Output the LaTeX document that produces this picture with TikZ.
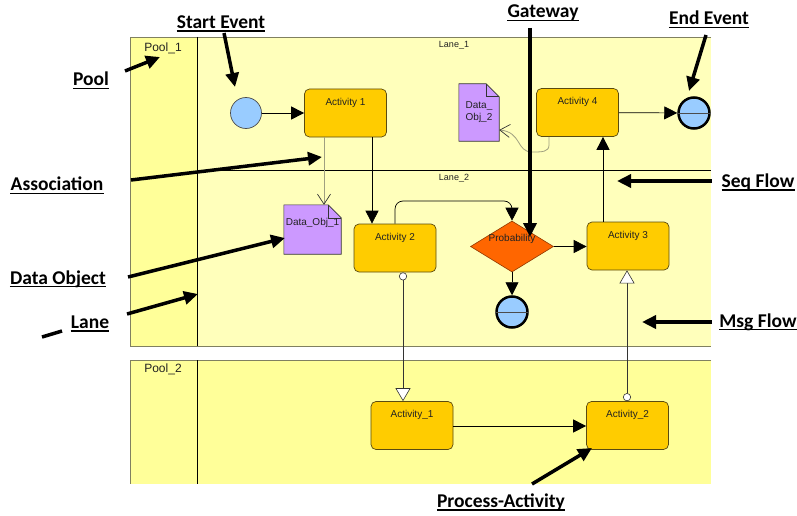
\documentclass[tikz,border=0pt]{standalone}
\usepackage{fontspec}
\setmainfont{Liberation Sans}
\newfontfamily\annfont{Carlito}
\usetikzlibrary{arrows.meta,shapes.geometric,calc}
\definecolor{hdr}{HTML}{FFFF99}
\definecolor{lanec}{HTML}{FFFFBB}
\definecolor{poolb}{HTML}{808060}
\definecolor{actf}{HTML}{FFCC00}
\definecolor{actb}{HTML}{5A4A10}
\definecolor{evf}{HTML}{99CCFF}
\definecolor{dof}{HTML}{CC99FF}
\definecolor{gwf}{HTML}{FF6600}
\definecolor{gwb}{HTML}{903800}
\definecolor{assoc}{HTML}{A0A080}
\definecolor{txt}{HTML}{222222}
\begin{document}
\begin{tikzpicture}[x=1pt,y=-1pt,
  small/.style={font=\fontsize{10}{11.5}\selectfont, text=txt, inner sep=0pt},
  act/.style={draw=actb, fill=actf, rounded corners=5pt, minimum width=82pt, minimum height=48pt, inner sep=0pt, line width=0.7pt,
    label={[small, anchor=north, yshift=-9pt]north:#1}},
  startev/.style={circle, draw=black!70, fill=evf, minimum size=31pt, inner sep=0pt, line width=0.7pt},
  endev/.style={circle, draw=black, fill=evf, minimum size=31pt, inner sep=0pt, line width=2.5pt},
  gwstyle/.style={diamond, draw=gwb, fill=gwf, minimum width=83pt, minimum height=51pt, inner sep=0pt, aspect=1.6, line width=0.6pt},
  dobox/.style={minimum width=#1, inner sep=0pt},
  doshape/.style={draw=black!80, fill=dof, line width=0.6pt},
  seq/.style={black, line width=0.7pt, -{Triangle[length=13pt,width=13pt]}},
  msg/.style={black!80, line width=0.6pt, {Circle[length=8pt,width=8pt,fill=white]}-{Triangle[length=13pt,width=15pt,fill=white]}},
  asc/.style={assoc, line width=0.8pt, -{Straight Barb[length=10pt,width=13pt,line width=0.7pt,black!80]}},
  ann/.style={font=\annfont\bfseries\fontsize{19.5}{22}\selectfont, inner sep=0pt, text=black},
  annarr/.style={line width=3.5pt, -{Triangle[length=14pt,width=13pt]}},
  ul/.style={line width=1.3pt}
]
\useasboundingbox (0,0) rectangle (797,516);
\fill[white] (0,0) rectangle (797,516);
% pools
\fill[lanec] (130,37) rectangle (711,346);
\fill[hdr] (130,37) rectangle (197,346);
\draw[poolb, line width=0.8pt] (711,37) -- (130,37) -- (130,346) -- (711,346);
\draw[black, line width=0.7pt] (197,37) -- (197,346);
\draw[black, line width=0.7pt] (197,170) -- (711,170);
\fill[hdr] (130,360) rectangle (711,484);
\draw[poolb, line width=0.8pt] (711,360) -- (130,360) -- (130,484);
\draw[black, line width=0.7pt] (197,360) -- (197,484);
\node[font=\fontsize{12}{14}\selectfont, text=txt, inner sep=0pt] (p1) at (163,48) {Pool\_1};
\node[font=\fontsize{12}{14}\selectfont, text=txt, inner sep=0pt] (p2) at (163,369) {Pool\_2};
\node[font=\fontsize{9}{10}\selectfont, text=txt, inner sep=0pt] (l1) at (454,45) {Lane\_1};
\node[font=\fontsize{9}{10}\selectfont, text=txt, inner sep=0pt] (l2) at (454,178) {Lane\_2};

% flow objects
\node[startev] (se) at (246,113) {};
\node[act={Activity 1}] (a1) at (345.5,113) {};
\node[act={Activity 4}] (a4) at (577.5,112.5) {};
\node[endev] (ee1) at (694,113) {};
\draw[black!70, line width=0.8pt] (ee1.west) -- (ee1.east);
\node[act={Activity 2}] (a2) at (395,248) {};
\node[gwstyle] (gw) at (512,246.5) {};
\node[small] (gwt) at (512,239) {Probability};
\node[act={Activity 3}] (a3) at (628,246) {};
\node[endev] (ee2) at (512,312) {};
\draw[black!70, line width=0.8pt] (ee2.west) -- (ee2.east);
\node[act={Activity\_1}] (b1) at (412,425.5) {};
\node[act={Activity\_2}] (b2) at (627.5,425.5) {};

% data objects
\node[dobox=57pt, minimum height=49pt] (d1) at (312.5,229.5) {};
\draw[doshape] (d1.south west) -- (d1.north west) -- ($(d1.north east)+(-13,0)$) -- ($(d1.north east)+(0,13)$) -- (d1.south east) -- cycle;
\draw[doshape, fill=none] ($(d1.north east)+(-13,0)$) |- ($(d1.north east)+(0,13)$);
\node[small] (d1t) at (312.5,223) {Data\_Obj\_1};
\node[dobox=40pt, minimum height=57pt] (d2) at (479,112.5) {};
\draw[doshape] (d2.south west) -- (d2.north west) -- ($(d2.north east)+(-13,0)$) -- ($(d2.north east)+(0,13)$) -- (d2.south east) -- cycle;
\draw[doshape, fill=none] ($(d2.north east)+(-13,0)$) |- ($(d2.north east)+(0,13)$);
\node[small, align=center] (d2t) at (479,112) {Data\_\\Obj\_2};

% sequence flows
\draw[seq] (se) -- (a1);
\draw[seq] (a4) -- (ee1);
\draw[seq] (a1.south -| 372,0) -- (a2.north -| 372,0);
\draw[seq, rounded corners=8pt] (a2.north -| 395,0) |- (512,201) -- (gw.north);
\draw[seq] (gw.east) -- (a3.west |- gw.east);
\draw[seq] (a3.north -| 603,0) -- (a4.south -| 603,0);
\draw[seq] (gw.south) -- (ee2.north);
\draw[seq] (b1.east |- 0,426) -- (b2.west |- 0,426);

% message flows
\draw[msg] (a2.south -| 403,0) -- (b1.north -| 403,0);
\draw[msg] (b2.north -| 627,0) -- (a3.south -| 627,0);

% associations
\draw[asc] (a1.south -| 324,0) -- (d1.north -| 324,0);
\draw[asc] (a4.south -| 549,0) -- (549,145) .. controls (549,152) and (542,152) .. (532,152) .. controls (516,152) and (522,132) .. (d2.east |- 0,130);

% annotations
\node[ann] (tStart) at (221,22) {Start Event};
\node[ann] (tGate) at (543,13) {Gateway};
\node[ann] (tEnd) at (709,18) {End Event};
\node[ann] (tPool) at (91,79) {Pool};
\node[ann] (tAssoc) at (57,184) {Association};
\node[ann] (tData) at (58,279) {Data Object};
\node[ann] (tLane) at (90,322) {Lane};
\node[ann] (tSeq) at (758,182) {Seq Flow};
\node[ann] (tMsg) at (758,322) {Msg Flow};
\node[ann] (tProc) at (501,502) {Process-Activity};
\foreach \n in {tStart,tGate,tEnd,tPool,tAssoc,tData,tLane,tSeq,tMsg,tProc}
  \draw[ul] ([yshift=-2.6pt]\n.base west) -- ([yshift=-2.6pt]\n.base east);

\coordinate (cStart) at (224,33);
\coordinate (cGate) at (530,28);
\coordinate (cEnd) at (706,35);
\coordinate (cPool) at (125,71);
\coordinate (cAssoc) at (131,180);
\coordinate (cData) at (128,277);
\coordinate (cLane) at (127,314);
\coordinate (cSeq) at (712,181);
\coordinate (cMsg) at (712,322);
\coordinate (cProc) at (532,484);
\coordinate (tipStart) at (235,87);
\coordinate (tipGate) at (530,237);
\coordinate (tipEnd) at (689,91);
\coordinate (tipPool) at (160,57);
\coordinate (tipAssoc) at (322,157);
\coordinate (tipData) at (285,238);
\coordinate (tipLane) at (198,294);
\coordinate (tipSeq) at (617,181);
\coordinate (tipMsg) at (642,322);
\coordinate (tipProc) at (592,448);
\foreach \n in {Start,Gate,End,Pool,Assoc,Data,Lane,Seq,Msg,Proc}
  \draw[annarr] (c\n) -- (tip\n);
\coordinate (dashA) at (42,337);
\coordinate (dashB) at (62,331);
\draw[line width=3.5pt] (dashA) -- (dashB);
\end{tikzpicture}
\end{document}
